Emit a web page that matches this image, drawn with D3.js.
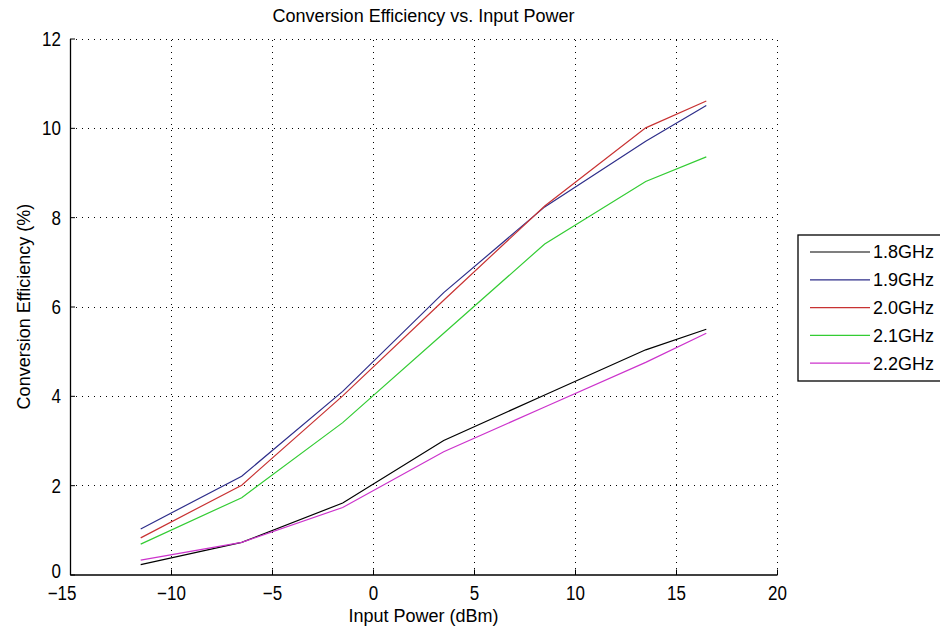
<!DOCTYPE html>
<html><head><meta charset="utf-8">
<script src="https://cdn.jsdelivr.net/npm/d3@7"></script>
<style>
body{margin:0;background:#fff}
svg text{font-family:"Liberation Sans",Arial,sans-serif;fill:#000}
</style>
</head><body>
<svg id="chart" width="940" height="630"></svg>
<script>
// Measured conversion efficiency (%) at each input power (dBm)
const inputPower = [-11.5, -6.5, -1.5, 3.5, 8.5, 13.5, 16.5];
const seriesNames = ["1.8GHz", "1.9GHz", "2.0GHz", "2.1GHz", "2.2GHz"];
const eff18 = [0.22, 0.72, 1.60, 3.00, 4.02, 5.03, 5.49];
const eff19 = [1.02, 2.20, 4.10, 6.31, 8.23, 9.70, 10.50];
const eff20 = [0.82, 2.00, 4.00, 6.14, 8.25, 10.00, 10.60];
const eff21 = [0.68, 1.72, 3.40, 5.40, 7.40, 8.80, 9.35];
const eff22 = [0.32, 0.72, 1.50, 2.75, 3.75, 4.75, 5.40];
const seriesColors = ["#000000", "#2e2e8a", "#c83232", "#33cc33", "#cc33cc"];
const xTicks = [-15, -10, -5, 0, 5, 10, 15, 20];
const yTicks = [0, 2, 4, 6, 8, 10, 12];

const series = [eff18, eff19, eff20, eff21, eff22].map((vals, i) => ({
  name: seriesNames[i], color: seriesColors[i],
  points: vals.map((v, j) => [inputPower[j], v])
}));

const svg = d3.select("#chart");
const plot = {left: 70, right: 777, top: 38.5, bottom: 574.5};

const x = d3.scaleLinear().domain([-15, 20]).range([plot.left, plot.right]);
const y = d3.scaleLinear().domain([0, 12]).range([plot.bottom, plot.top]);

// dotted grid
const grid = svg.append("g").attr("stroke", "#000").attr("stroke-width", 1)
  .attr("stroke-dasharray", "1,5").attr("shape-rendering", "crispEdges");
grid.selectAll("line.gx").data(xTicks.slice(1)).join("line")
  .attr("x1", d => Math.round(x(d)) + 0.5).attr("x2", d => Math.round(x(d)) + 0.5)
  .attr("y1", plot.bottom).attr("y2", plot.top);
grid.selectAll("line.gy").data(yTicks.slice(1)).join("line")
  .attr("y1", d => Math.round(y(d)) + 0.5).attr("y2", d => Math.round(y(d)) + 0.5)
  .attr("x1", plot.left).attr("x2", plot.right);

// axes with inward ticks; tick labels use a slightly tall, narrow face
const stretch = 1.15;
const xAxis = svg.append("g").attr("transform", `translate(0,${plot.bottom})`)
  .call(d3.axisBottom(x).tickValues(xTicks).tickSizeInner(-5).tickSizeOuter(0));
const yAxis = svg.append("g").attr("transform", `translate(${plot.left},0)`)
  .call(d3.axisLeft(y).tickValues(yTicks).tickSizeInner(-5).tickSizeOuter(0));
[xAxis, yAxis].forEach(a => {
  a.select(".domain").attr("stroke", "#000").attr("stroke-width", 1.3);
  a.selectAll(".tick line").attr("stroke", "#000");
  a.selectAll("text").attr("font-size", 17).attr("font-family", "Liberation Sans, Arial, sans-serif").attr("fill", "#000");
});
xAxis.selectAll(".tick text").attr("y", 0).attr("dy", 0)
  .attr("transform", `translate(0,25.5) scale(1,${stretch})`);
// the leftmost label sits to the left of the corner, clear of the y labels
xAxis.selectAll(".tick text").filter(d => d === xTicks[0])
  .attr("text-anchor", "end").attr("x", 6);
yAxis.selectAll(".tick text").attr("x", -9).attr("y", 0).attr("dy", "0.36em")
  .attr("transform", d => `translate(0,${d === yTicks[0] ? -4 : 0}) scale(1,${stretch})`);

// series lines
const line = d3.line().x(d => x(d[0])).y(d => y(d[1]));
svg.append("g").selectAll("path").data(series).join("path")
  .attr("fill", "none").attr("stroke", d => d.color).attr("stroke-width", 1.2)
  .attr("d", d => line(d.points));

// titles
svg.append("text").attr("x", (plot.left + plot.right) / 2).attr("y", 22)
  .attr("text-anchor", "middle").attr("font-size", 18)
  .text("Conversion Efficiency vs. Input Power");
svg.append("text").attr("x", (plot.left + plot.right) / 2).attr("y", 622)
  .attr("text-anchor", "middle").attr("font-size", 18)
  .text("Input Power (dBm)");
svg.append("text").attr("transform", `translate(30,${(plot.top + plot.bottom) / 2}) rotate(-90)`)
  .attr("text-anchor", "middle").attr("font-size", 18)
  .text("Conversion Efficiency (%)");

// legend
const legend = svg.append("g").attr("transform", "translate(798,235)");
legend.append("rect").attr("width", 200).attr("height", 146)
  .attr("fill", "#fff").attr("stroke", "#000").attr("stroke-width", 1.3);
const items = legend.selectAll("g.item").data(series).join("g")
  .attr("transform", (d, i) => `translate(0,${17 + i * 27.8})`);
items.append("line").attr("x1", 12).attr("x2", 72)
  .attr("stroke", d => d.color).attr("stroke-width", 1.2);
items.append("text").attr("x", 75).attr("dy", "0.36em").attr("font-size", 18)
  .text(d => d.name);
</script>
</body></html>
